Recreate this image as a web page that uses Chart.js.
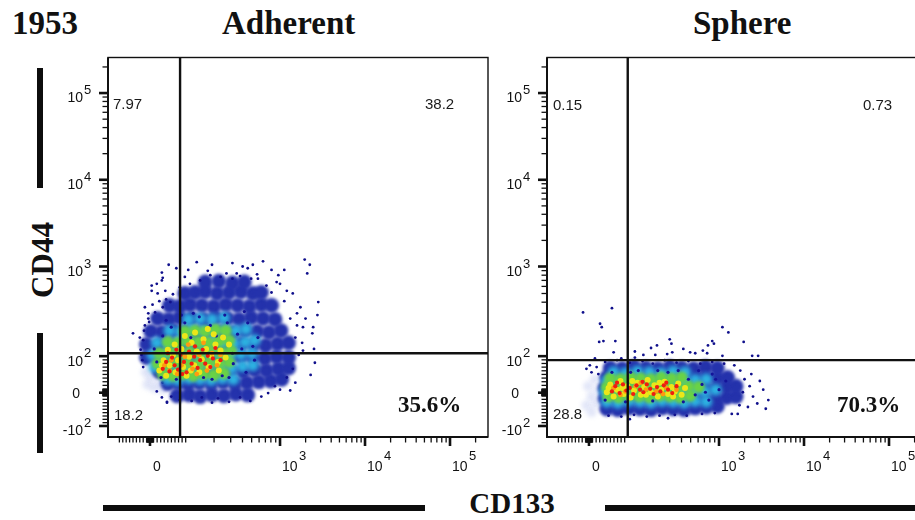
<!DOCTYPE html>
<html><head><meta charset="utf-8">
<script src="https://cdn.jsdelivr.net/npm/chart.js@4.4.1/dist/chart.umd.min.js"></script>
<style>
html,body{margin:0;padding:0;background:#fff;overflow:hidden}
body{width:915px;height:520px;position:relative}
.big{position:absolute;font-family:"Liberation Serif","Times New Roman",serif;font-weight:bold;color:#111;white-space:nowrap;font-size:33px;line-height:33px}
.q{position:absolute;font-family:"Liberation Sans",Arial,sans-serif;font-size:15px;line-height:15px;color:#1a1a1a;white-space:nowrap}
.pct{position:absolute;font-family:"Liberation Serif","Times New Roman",serif;font-weight:bold;font-size:23px;line-height:23px;color:#111;white-space:nowrap}
.bar{position:absolute;background:#0d0d0d}
.panel{position:absolute;width:440px;height:430px}
.panel canvas{display:block}
</style></head><body>
<div class="big" style="left:12px;top:7px">1953</div>
<div class="big" style="left:222px;top:7px">Adherent</div>
<div class="big" style="left:693px;top:7px">Sphere</div>
<div class="big" style="left:42px;top:260px;font-size:31px;line-height:31px;transform:translate(-50%,-50%) rotate(-90deg)">CD44</div>
<div class="big" style="left:512px;top:503px;font-size:29px;line-height:29px;transform:translate(-50%,-50%)">CD133</div>
<div class="bar" style="left:37px;top:68px;width:6px;height:120px"></div>
<div class="bar" style="left:37px;top:333px;width:6px;height:120px"></div>
<div class="bar" style="left:103px;top:505px;width:322px;height:6px"></div>
<div class="bar" style="left:605px;top:505px;width:310px;height:6px"></div>
<div class="panel" style="left:60px;top:50px"><canvas id="c1" width="440" height="430"></canvas></div>
<div class="panel" style="left:499px;top:50px"><canvas id="c2" width="440" height="430"></canvas></div>
<div id="labels"></div>
<script>
// ---------- axis definitions (display units: decades of a biexponential scale) ----------
const xMin = 0.976, xMax = 5.447, yMin = 1.034, yMax = 5.41;
const yTickValues = [-100, 0, 100, 1000, 10000, 100000];
const yTickLabels = [['-10','2'], ['0',''], ['10','2'], ['10','3'], ['10','4'], ['10','5']];
const xTickValues = [0, 1000, 10000, 100000];
const xTickLabels = [['0',''], ['10','3'], ['10','4'], ['10','5']];

// quadrant frequencies: [Q1 (top-left), Q2 (top-right), Q4 (bottom-left), Q3 (bottom-right, %)]
const adherentQuadrants = ['7.97', '38.2', '18.2', '35.6%'];
const sphereQuadrants = ['0.15', '0.73', '28.8', '70.3%'];

// gates (display units)
const adherentGate = [1.824, 2.0];
const sphereGate = [1.926, 1.92];

// ---------- events, Adherent (CD133, CD44) in display units ----------
const adherentPale = [[1.44,1.64],[1.52,1.60],[1.48,1.72],[1.58,1.66],[1.42,1.78],[1.62,1.58]];
const adherentSparse = [
[1.69,3.02],[3.29,3.08],[3.35,3.02],[3.32,2.92],[3.45,2.59],[3.39,2.30],[3.38,2.23],[3.41,1.89],[3.27,2.03],[3.18,1.66],
[3.12,1.57],[2.94,1.62],[2.65,1.45],[2.20,3.02],[2.80,3.06],[2.56,3.00],[2.62,2.98],[2.49,2.92],[2.53,2.89],[2.37,2.92],
[2.15,2.95],[2.18,2.90],[1.61,2.93],[1.62,2.87],[1.49,2.78],[1.55,2.80],[1.41,2.53],[1.45,2.46],[1.27,2.23],[2.73,2.91],
[2.74,2.86],[2.96,2.82],[3.00,2.80],[3.08,2.72],[3.15,2.69],[3.24,2.53],[3.20,2.46],[3.27,2.30],[1.67,1.44],[2.08,1.49],
[2.27,1.48],[2.53,1.49],[1.61,2.84],[1.49,2.72],[1.56,2.69],[1.65,2.72],[1.71,2.59],[1.62,2.53],[1.53,2.47],[1.45,2.40],
[1.41,2.32],[1.35,2.18],[1.39,2.15],[1.38,1.92],[1.39,1.84],[1.62,1.66],[1.67,1.43],[1.61,1.49],[3.05,2.60],[3.12,2.40],
[3.18,2.18],[3.22,1.98],[3.15,1.82],[3.08,1.72],[3.20,2.32],[3.26,2.12],[3.00,1.58],[2.86,1.54],[2.78,1.50],[2.40,1.44],
[2.20,1.43],[1.96,1.45],[1.82,1.46],[1.72,1.50],[3.30,2.40],[2.90,2.70],[2.84,2.78],[2.66,2.86],[2.44,2.86],[2.30,2.88],
[2.06,2.84],[1.94,2.80],[1.82,2.76],[1.74,2.68],[1.66,2.62],[1.58,2.60],[1.50,2.56],[1.46,2.36],[1.40,2.26],[1.36,2.04],
[1.37,1.98],[1.55,1.56],[3.40,2.05],[3.44,2.44],[3.36,1.75],[2.98,2.90],[3.05,2.96],[1.78,2.98],[1.92,2.96],[2.02,3.05],
[2.44,3.04],[2.68,3.02],[2.90,2.96],[1.88,2.88]];
const adherentBlue = [
[1.79,1.51],[1.93,1.52],[2.06,1.50],[2.20,1.52],[2.34,1.51],[2.48,1.53],[2.62,1.52],
[1.68,1.65],[1.80,1.66],[1.92,1.65],[2.05,1.66],[2.19,1.65],[2.33,1.67],[2.47,1.65],[2.61,1.66],[2.75,1.67],[2.89,1.68],[3.02,1.70],
[1.58,1.79],[1.72,1.81],[1.86,1.80],[2.00,1.79],[2.14,1.80],[2.28,1.81],[2.42,1.80],[2.56,1.79],[2.70,1.81],[2.84,1.80],[2.98,1.82],[3.10,1.83],
[1.43,1.95],[1.56,1.94],[1.70,1.96],[1.84,1.95],[1.98,1.94],[2.12,1.96],[2.26,1.95],[2.40,1.94],[2.54,1.96],[2.68,1.95],[2.82,1.94],[2.96,1.96],[3.10,1.95],
[1.43,2.10],[1.57,2.09],[1.71,2.11],[1.85,2.10],[1.99,2.09],[2.13,2.11],[2.27,2.10],[2.41,2.09],[2.55,2.11],[2.69,2.10],[2.83,2.09],[2.97,2.11],[3.10,2.12],
[1.48,2.25],[1.61,2.24],[1.75,2.26],[1.89,2.25],[2.03,2.24],[2.17,2.26],[2.31,2.25],[2.45,2.24],[2.59,2.26],[2.73,2.25],[2.87,2.24],[3.01,2.26],
[1.56,2.40],[1.69,2.39],[1.82,2.41],[1.96,2.40],[2.10,2.39],[2.24,2.41],[2.38,2.40],[2.52,2.39],[2.66,2.41],[2.80,2.40],[2.94,2.39],
[1.70,2.55],[1.82,2.54],[1.94,2.56],[2.08,2.55],[2.22,2.54],[2.36,2.56],[2.50,2.55],[2.64,2.54],[2.78,2.56],[2.90,2.55],
[1.88,2.69],[2.00,2.70],[2.12,2.71],[2.26,2.69],[2.40,2.70],[2.54,2.71],[2.68,2.69],[2.78,2.70],
[2.12,2.82],[2.28,2.83],[2.44,2.81],[2.58,2.82]];
const adherentCyan = [
[1.68,1.70],[1.80,1.69],[1.93,1.71],[2.06,1.70],[2.19,1.69],[2.32,1.71],[2.45,1.70],
[1.52,1.84],[1.65,1.83],[1.78,1.85],[1.91,1.84],[2.04,1.83],[2.17,1.85],[2.30,1.84],[2.43,1.83],[2.56,1.85],[2.68,1.86],
[1.50,1.98],[1.63,1.97],[1.76,1.99],[1.89,1.98],[2.02,1.97],[2.15,1.99],[2.28,1.98],[2.41,1.97],[2.54,1.99],[2.67,2.00],
[1.55,2.12],[1.68,2.11],[1.81,2.13],[1.94,2.12],[2.07,2.11],[2.20,2.13],[2.33,2.12],[2.46,2.11],[2.59,2.13],[2.70,2.15],
[1.70,2.26],[1.83,2.25],[1.96,2.27],[2.09,2.26],[2.22,2.25],[2.35,2.27],[2.48,2.26],[2.60,2.28],
[1.92,2.39],[2.06,2.40],[2.20,2.39],[2.34,2.41]];
const adherentGreen = [
[1.62,1.76],[1.74,1.74],[1.86,1.76],[1.98,1.74],[2.10,1.76],[2.22,1.75],[2.34,1.77],
[1.56,1.88],[1.68,1.87],[1.80,1.89],[1.92,1.88],[2.04,1.87],[2.16,1.89],[2.28,1.88],[2.40,1.90],
[1.58,2.00],[1.70,2.01],[1.82,2.00],[1.94,2.01],[2.06,2.00],[2.18,2.02],[2.30,2.01],[2.42,2.03],
[1.68,2.13],[1.80,2.12],[1.92,2.14],[2.04,2.13],[2.16,2.12],[2.28,2.14],[2.40,2.15],
[1.88,2.25],[2.00,2.26],[2.12,2.25],[2.24,2.27],[2.36,2.26]];
const adherentNavy = [
[1.55,1.90],[1.62,2.20],[1.72,2.30],[1.78,1.70],[1.88,2.35],[1.95,2.18],[2.05,2.42],[2.10,1.72],[2.18,2.32],[2.25,2.20],
[2.32,1.74],[2.38,2.35],[2.45,1.88],[2.50,2.22],[2.55,2.05],[2.60,1.78],[2.62,2.35],[2.70,1.92],[2.74,2.18],[1.52,2.05],
[1.66,2.38],[2.44,2.00],[2.58,2.48],[2.35,2.44],[1.98,2.46],[2.68,2.08],[1.84,2.44],[2.40,1.72],[2.20,1.70],[1.60,1.72]];
const adherentYellow = [
[1.58,1.80],[1.63,1.92],[1.66,1.74],[1.70,1.86],[1.74,1.98],[1.77,1.78],[1.80,1.92],[1.84,2.05],[1.86,1.84],[1.90,1.74],
[1.93,1.96],[1.96,2.12],[1.99,1.86],[2.02,2.02],[2.05,1.78],[2.08,1.93],[2.10,2.16],[2.13,2.05],[2.16,1.84],[2.19,1.97],
[2.22,2.22],[2.24,2.10],[2.27,1.90],[2.30,2.03],[2.33,2.18],[2.36,1.95],[1.68,2.04],[1.88,2.20],[2.00,2.24],[2.15,2.28],
[1.61,1.86],[1.76,2.10],[2.40,2.10],[2.28,1.80],[1.95,1.80]];
const adherentOrange = [
[1.64,1.86],[1.72,1.92],[1.79,1.76],[1.88,1.96],[1.97,1.82],[2.05,1.98],[2.14,1.80],[2.20,2.00],[2.26,1.86],[1.70,1.80],
[1.92,2.10],[2.10,2.12],[2.02,1.76],[1.84,1.86],[2.30,1.98]];
const adherentRed = [
[1.62,1.82],[1.66,1.90],[1.70,1.79],[1.73,1.95],[1.76,1.86],[1.80,1.81],[1.83,1.98],[1.87,1.90],[1.90,1.78],[1.93,2.02],
[1.96,1.88],[1.99,1.96],[2.03,1.83],[2.06,1.92],[2.09,2.04],[2.12,1.88],[2.15,1.97],[2.18,1.84],[2.21,1.94],[2.24,2.06],
[1.68,2.00],[1.85,1.76],[2.00,2.08],[2.30,1.92],[1.78,2.04]];

// ---------- events, Sphere (CD133, CD44) in display units ----------
const spherePale = [[1.44,1.40],[1.50,1.50],[1.46,1.62],[1.54,1.70],[1.56,1.42],[1.50,1.32],[1.58,1.58]];
const sphereSparse = [
[1.40,2.47],[1.74,2.52],[1.60,2.34],[1.62,2.30],[1.59,2.13],[1.64,2.14],[1.78,2.14],[1.76,2.01],[3.04,2.30],[3.11,2.24],
[3.29,2.13],[2.92,2.14],[2.94,2.11],[2.87,2.09],[2.42,2.16],[2.44,2.11],[2.27,2.09],[2.20,2.06],[2.01,2.02],[2.11,1.98],
[2.25,1.98],[2.39,1.99],[2.45,2.01],[2.58,2.05],[2.66,2.01],[2.72,2.00],[2.81,2.03],[2.86,2.00],[3.04,1.97],[3.39,1.97],
[3.46,1.97],[1.54,1.94],[1.85,1.94],[2.01,1.95],
[3.25,1.80],[3.30,1.70],[3.36,1.62],[3.28,1.55],[3.40,1.50],[3.45,1.42],[3.52,1.58],[3.58,1.46],[3.34,1.38],[3.24,1.40],
[3.48,1.68],[3.22,1.30],[3.15,1.30],[3.38,1.76],[3.55,1.36],
[1.70,1.28],[1.85,1.27],[2.00,1.29],[2.15,1.27],[2.30,1.28],[2.48,1.29],[2.62,1.28],[2.80,1.30],[2.95,1.31],[1.95,1.24],[2.40,1.25],
[1.66,1.90],[1.80,1.92],[1.95,1.89],[2.10,1.91],[2.22,1.88],[2.36,1.92],[2.50,1.89],[2.64,1.91],[2.78,1.88],[2.92,1.90],[3.06,1.88],[3.18,1.86],
[1.44,1.82],[1.50,1.78],[1.56,1.84],[1.48,1.86],[1.58,1.76]];
const sphereBlue = [
[1.68,1.36],[1.81,1.35],[1.94,1.37],[2.07,1.36],[2.20,1.35],[2.33,1.37],[2.46,1.36],[2.59,1.35],[2.72,1.37],[2.85,1.38],[2.98,1.39],
[1.66,1.48],[1.79,1.47],[1.92,1.49],[2.05,1.48],[2.18,1.47],[2.31,1.49],[2.44,1.48],[2.57,1.47],[2.70,1.49],[2.83,1.48],[2.96,1.47],[3.09,1.49],[3.20,1.50],
[1.66,1.60],[1.79,1.59],[1.92,1.61],[2.05,1.60],[2.18,1.59],[2.31,1.61],[2.44,1.60],[2.57,1.59],[2.70,1.61],[2.83,1.60],[2.96,1.59],[3.09,1.61],[3.20,1.62],
[1.68,1.72],[1.81,1.71],[1.94,1.73],[2.07,1.72],[2.20,1.71],[2.33,1.73],[2.46,1.72],[2.59,1.71],[2.72,1.73],[2.85,1.72],[2.98,1.71],[3.10,1.72],
[1.72,1.83],[1.86,1.82],[2.00,1.84],[2.14,1.83],[2.28,1.82],[2.42,1.84],[2.56,1.83],[2.70,1.82],[2.84,1.84],[2.98,1.83]];
const sphereCyan = [
[1.68,1.44],[1.81,1.43],[1.94,1.45],[2.07,1.44],[2.20,1.43],[2.33,1.45],[2.46,1.44],[2.59,1.43],[2.72,1.45],[2.85,1.44],
[1.66,1.56],[1.79,1.55],[1.92,1.57],[2.05,1.56],[2.18,1.55],[2.31,1.57],[2.44,1.56],[2.57,1.55],[2.70,1.57],[2.83,1.56],[2.96,1.58],
[1.68,1.68],[1.81,1.67],[1.94,1.69],[2.07,1.68],[2.20,1.67],[2.33,1.69],[2.46,1.68],[2.59,1.67],[2.72,1.69],[2.85,1.70],
[1.76,1.78],[1.90,1.77],[2.04,1.79],[2.18,1.78],[2.32,1.77],[2.46,1.79],[2.60,1.78]];
const sphereGreen = [
[1.70,1.50],[1.82,1.49],[1.94,1.51],[2.06,1.50],[2.18,1.49],[2.30,1.51],[2.42,1.50],[2.54,1.49],[2.66,1.51],
[1.68,1.61],[1.80,1.60],[1.92,1.62],[2.04,1.61],[2.16,1.60],[2.28,1.62],[2.40,1.61],[2.52,1.60],[2.64,1.62],[2.76,1.61],
[1.72,1.71],[1.84,1.70],[1.96,1.72],[2.08,1.71],[2.20,1.70],[2.32,1.72],[2.44,1.71],[2.56,1.72]];
const sphereNavy = [
[1.66,1.46],[1.74,1.78],[1.90,1.44],[2.05,1.80],[2.22,1.45],[2.40,1.78],[2.58,1.44],[2.64,1.70],[2.72,1.52],[2.80,1.64],
[2.88,1.46],[2.92,1.76],[3.00,1.58],[2.76,1.80],[2.52,1.80],[2.28,1.80],[1.96,1.78],[3.08,1.68],[2.84,1.55],[2.96,1.70]];
const sphereYellow = [
[1.68,1.55],[1.72,1.64],[1.76,1.50],[1.80,1.58],[1.84,1.68],[1.88,1.53],[1.92,1.62],[1.96,1.49],[2.00,1.57],[2.04,1.66],
[2.08,1.52],[2.12,1.61],[2.16,1.69],[2.20,1.55],[2.24,1.63],[2.28,1.50],[2.32,1.58],[2.36,1.67],[2.40,1.53],[2.44,1.61],
[2.48,1.56],[2.52,1.65],[2.56,1.52],[2.60,1.60],[1.70,1.60],[1.86,1.60],[2.14,1.52],[2.30,1.66],[2.46,1.50],[1.98,1.68]];
const sphereOrange = [[1.76,1.60],[1.90,1.56],[2.02,1.62],[2.14,1.58],[2.26,1.56],[2.38,1.60],[2.50,1.58],[1.84,1.52],[2.08,1.66],[2.34,1.53]];
const sphereRed = [
[1.74,1.56],[1.78,1.62],[1.83,1.54],[1.87,1.64],[1.91,1.57],[1.95,1.60],[1.99,1.53],[2.03,1.63],[2.07,1.58],[2.11,1.55],
[2.15,1.64],[2.19,1.59],[2.23,1.53],[2.27,1.61],[2.31,1.56],[2.35,1.63],[2.40,1.58],[2.45,1.54],[2.50,1.62],[2.10,1.67],
[1.80,1.66],[2.38,1.66]];

// ---------- biexponential value -> display transform for tick placement ----------
function makeT(zero, hundred, negHundred){
  return v => {
    if (v >= 1000) return Math.log10(v);
    if (v >= 100) return hundred + (Math.log10(v) - 2) * (3 - hundred);
    if (v >= 0) return zero + v / 100 * (hundred - zero);
    if (v > -100) return zero + v / 100 * (zero - negHundred);
    return negHundred - (Math.log10(-v) - 2) * (3 - hundred);
  };
}
const Tx = makeT(1.47, 1.89, 1.07);
const Ty = makeT(1.545, 1.966, 1.161);
const minorVals = [];
for (let k = 0; k <= 1; k++) for (let m = 1; m <= 9; m++) { if (k === 0 && m === 1) continue; minorVals.push(m * 10 ** k, -m * 10 ** k); }
minorVals.push(1, -1);
for (let k = 2; k <= 5; k++) for (let m = 2; m <= 9; m++) minorVals.push(m * 10 ** k);
minorVals.push(100);

const softLayers = {
  id: 'softLayers',
  beforeDatasetDraw(chart, args){
    const b = chart.data.datasets[args.index].blur;
    chart.ctx.save();
    if (b) chart.ctx.filter = 'blur(' + b + 'px)';
  },
  afterDatasetDraw(chart){ chart.ctx.restore(); }
};

const flowAxes = {
  id: 'flowAxes',
  afterDatasetsDraw(chart){
    const {ctx, chartArea: a, scales: {x, y}} = chart;
    ctx.save();
    ctx.strokeStyle = '#111'; ctx.fillStyle = '#111';
    ctx.lineWidth = 1.4;
    ctx.strokeRect(a.left, a.top, a.right - a.left, a.bottom - a.top);
    ctx.lineWidth = 2;
    ctx.beginPath(); ctx.moveTo(a.left, a.top); ctx.lineTo(a.left, a.bottom); ctx.lineTo(a.right, a.bottom); ctx.stroke();
    const yt = (v, len, w) => { const u = Ty(v); if (u < yMin || u > yMax) return; const p = y.getPixelForValue(u);
      ctx.lineWidth = w; ctx.beginPath(); ctx.moveTo(a.left - len, p); ctx.lineTo(a.left, p); ctx.stroke(); };
    const xt = (v, len, w) => { const u = Tx(v); if (u < xMin || u > xMax) return; const p = x.getPixelForValue(u);
      ctx.lineWidth = w; ctx.beginPath(); ctx.moveTo(p, a.bottom); ctx.lineTo(p, a.bottom + len); ctx.stroke(); };
    minorVals.forEach(v => { yt(v, 5.5, 1.3); xt(v, 5.5, 1.3); });
    yTickValues.forEach(v => yt(v, 9, 2.6));
    xTickValues.forEach(v => xt(v, 9, 2.6));
    yTickValues.forEach((v, i) => {
      const p = y.getPixelForValue(Ty(v)); const [b, e] = yTickLabels[i];
      ctx.textBaseline = 'middle';
      ctx.font = '14px "Liberation Sans", Arial, sans-serif';
      ctx.textAlign = 'right';
      if (e) {
        ctx.fillText(b, a.left - 25, p + 5.5);
        ctx.font = '13px "Liberation Sans", Arial, sans-serif'; ctx.textAlign = 'left';
        ctx.fillText(e, a.left - 24, p - 2.5);
      } else {
        ctx.fillText(b, a.left - 28, p + 1.5);
      }
    });
    xTickValues.forEach((v, i) => {
      const p = x.getPixelForValue(Tx(v)); const [b, e] = xTickLabels[i];
      ctx.textBaseline = 'middle'; ctx.textAlign = 'left';
      ctx.font = '14px "Liberation Sans", Arial, sans-serif';
      if (e) {
        ctx.fillText(b, p + 2, a.bottom + 30.5);
        ctx.font = '13px "Liberation Sans", Arial, sans-serif';
        ctx.fillText(e, p + 19, a.bottom + 19.5);
      } else {
        ctx.fillText(b, p + 3, a.bottom + 30);
      }
    });
    ctx.restore();
  }
};

const pts = arr => arr.map(([px, py]) => ({x: px, y: py}));
function layer(arr, r, color, order, blur){
  return {data: pts(arr), pointRadius: r, pointHoverRadius: r, pointBackgroundColor: color, pointBorderWidth: 0, borderWidth: 0, showLine: false, order, blur};
}
function gateLines(g){
  return [
    {data: [{x: g[0], y: yMin}, {x: g[0], y: yMax}], showLine: true, borderColor: '#111', borderWidth: 2.4, pointRadius: 0, order: 0},
    {data: [{x: xMin, y: g[1]}, {x: xMax, y: g[1]}], showLine: true, borderColor: '#111', borderWidth: 2.4, pointRadius: 0, order: 0}
  ];
}
function makeChart(id, L, gate){
  new Chart(document.getElementById(id), {
    type: 'scatter',
    data: {datasets: [
      layer(L.pale, 5, 'rgba(190,200,240,0.45)', 10, 2),
      layer(L.blue, 7.5, 'rgb(36,50,172)', 9, 1.5),
      layer(L.sparse, 1.4, '#10108c', 8),
      layer(L.cyan, 6, 'rgb(45,178,225)', 7, 2),
      layer(L.green, 6, 'rgb(105,210,70)', 6, 1.6),
      layer(L.navy, 1.6, '#14149a', 5),
      layer(L.yellow, 3, '#ece619', 4),
      layer(L.orange, 2.4, '#ff9a10', 3),
      layer(L.red, 2.1, '#f01c10', 2),
      ...gateLines(gate)
    ]},
    options: {
      responsive: false, animation: false, events: [],
      layout: {padding: {left: 48, right: 12, top: 6, bottom: 43}},
      plugins: {legend: {display: false}, tooltip: {enabled: false}},
      scales: {
        x: {type: 'linear', min: xMin, max: xMax, display: false},
        y: {type: 'linear', min: yMin, max: yMax, display: false}
      }
    },
    plugins: [softLayers, flowAxes]
  });
}
makeChart('c1', {pale: adherentPale, blue: adherentBlue, sparse: adherentSparse, cyan: adherentCyan, green: adherentGreen,
  navy: adherentNavy, yellow: adherentYellow, orange: adherentOrange, red: adherentRed}, adherentGate);
makeChart('c2', {pale: spherePale, blue: sphereBlue, sparse: sphereSparse, cyan: sphereCyan, green: sphereGreen,
  navy: sphereNavy, yellow: sphereYellow, orange: sphereOrange, red: sphereRed}, sphereGate);

const labelPos = [[113, 96], [425, 96], [114, 407], [398, 393]];
const labelPos2 = [[553, 97], [863, 97], [553, 406], [837, 393]];
const holder = document.getElementById('labels');
[[adherentQuadrants, labelPos], [sphereQuadrants, labelPos2]].forEach(([vals, pos]) => {
  vals.forEach((t, i) => {
    const d = document.createElement('div');
    d.className = i === 3 ? 'pct' : 'q';
    d.style.left = pos[i][0] + 'px'; d.style.top = pos[i][1] + 'px';
    d.textContent = t; holder.appendChild(d);
  });
});
</script>
</body></html>
